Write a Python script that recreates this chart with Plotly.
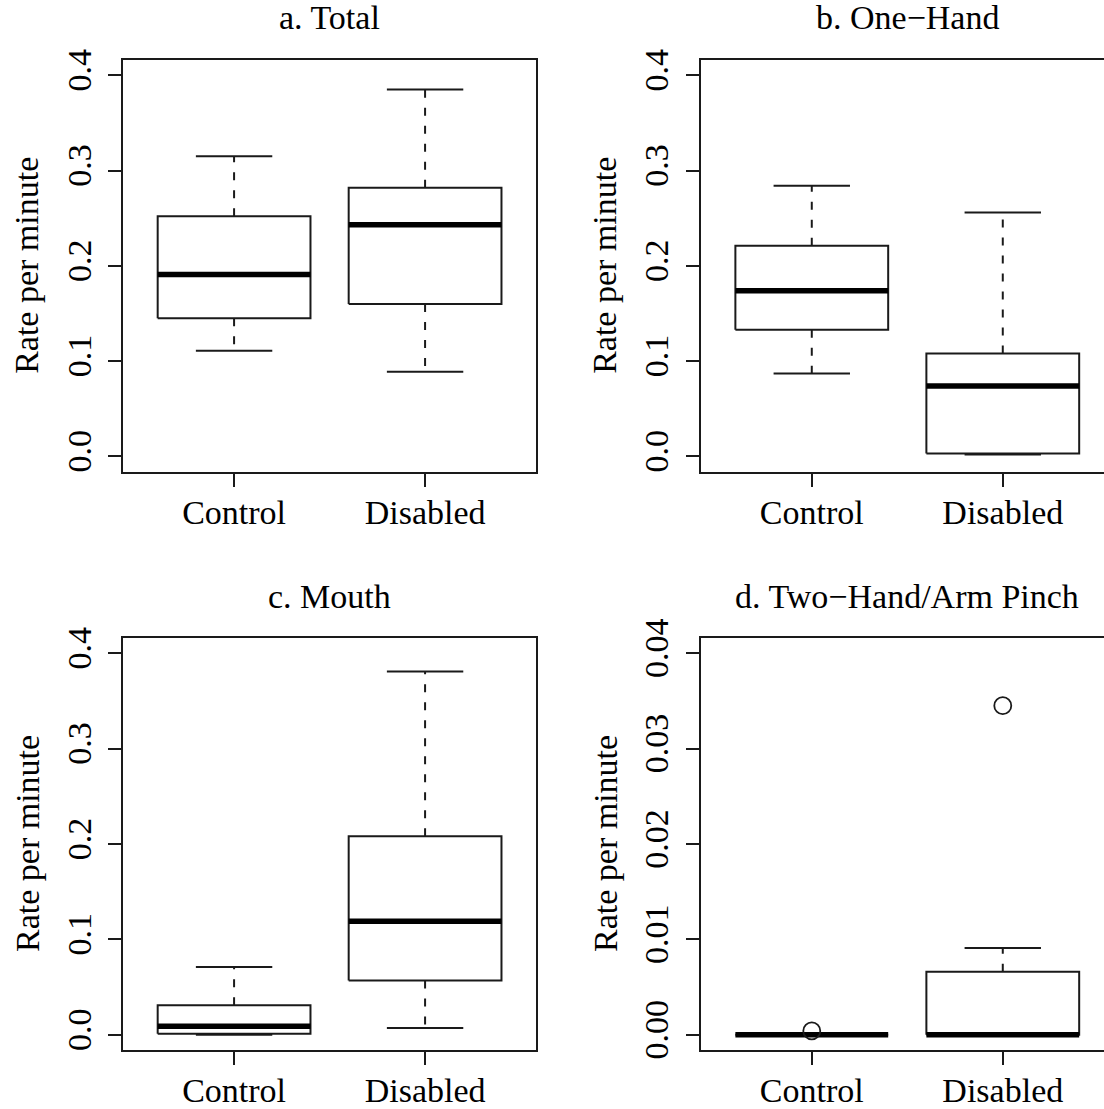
import plotly.graph_objects as go

# ---------------- data ----------------
groups = ["Control", "Disabled"]
panel_titles = ["a. Total", "b. One\u2212Hand", "c. Mouth", "d. Two\u2212Hand/Arm Pinch"]
y_label = "Rate per minute"

total_lower = [0.111, 0.089]
total_q1 = [0.145, 0.160]
total_median = [0.191, 0.243]
total_q3 = [0.252, 0.282]
total_upper = [0.315, 0.385]
total_outliers = [[], []]

onehand_lower = [0.087, 0.002]
onehand_q1 = [0.133, 0.003]
onehand_median = [0.174, 0.074]
onehand_q3 = [0.221, 0.108]
onehand_upper = [0.284, 0.256]
onehand_outliers = [[], []]

mouth_lower = [0.000, 0.007]
mouth_q1 = [0.001, 0.057]
mouth_median = [0.009, 0.119]
mouth_q3 = [0.031, 0.208]
mouth_upper = [0.071, 0.381]
mouth_outliers = [[], []]

twohand_lower = [0.0, 0.0]
twohand_q1 = [0.0, 0.0]
twohand_median = [0.0, 0.0]
twohand_q3 = [0.0, 0.0066]
twohand_upper = [0.0, 0.0091]
twohand_outliers = [[0.0004], [0.0345]]

ticks_rate = [0.0, 0.1, 0.2, 0.3, 0.4]
ticks_rate_text = ["0.0", "0.1", "0.2", "0.3", "0.4"]
ticks_small = [0.0, 0.01, 0.02, 0.03, 0.04]
ticks_small_text = ["0.00", "0.01", "0.02", "0.03", "0.04"]

# ---------------- layout geometry (pixels) ----------------
W, H = 1104, 1109
FONT = "Liberation Serif"
INK = "#1a1a1a"
unit = 191.0            # px per category unit
left_a, left_b = 123.3, 701.0
top_row = (60.0, 471.7)
bot_row = (638.0, 1050.0)
xr = (0.42, 2.58)

fig = go.Figure()

panels = [
    (total_lower, total_q1, total_median, total_q3, total_upper, total_outliers),
    (onehand_lower, onehand_q1, onehand_median, onehand_q3, onehand_upper, onehand_outliers),
    (mouth_lower, mouth_q1, mouth_median, mouth_q3, mouth_upper, mouth_outliers),
    (twohand_lower, twohand_q1, twohand_median, twohand_q3, twohand_upper, twohand_outliers),
]

BOX_HALF = 0.4
CAP_HALF = 0.2

for p, (lo, q1, med, q3, up, outs) in enumerate(panels):
    xa = "x" if p == 0 else f"x{p+1}"
    ya = "y" if p == 0 else f"y{p+1}"
    for i, g in enumerate(groups):
        c = i + 1
        # dashed whiskers
        for a, b in ((q3[i], up[i]), (q1[i], lo[i])):
            fig.add_trace(go.Scatter(x=[c, c], y=[a, b], mode="lines",
                                     line=dict(color=INK, width=2, dash="8px,10px"),
                                     xaxis=xa, yaxis=ya, showlegend=False, hoverinfo="skip"))
        # caps
        for v in (up[i], lo[i]):
            fig.add_trace(go.Scatter(x=[c - CAP_HALF, c + CAP_HALF], y=[v, v], mode="lines",
                                     line=dict(color=INK, width=2),
                                     xaxis=xa, yaxis=ya, showlegend=False, hoverinfo="skip"))
        # box
        fig.add_trace(go.Scatter(
            x=[c - BOX_HALF, c + BOX_HALF, c + BOX_HALF, c - BOX_HALF, c - BOX_HALF],
            y=[q1[i], q1[i], q3[i], q3[i], q1[i]], mode="lines",
            line=dict(color=INK, width=2), fill="toself", fillcolor="white",
            xaxis=xa, yaxis=ya, showlegend=False, name=g))
        # median
        fig.add_trace(go.Scatter(x=[c - BOX_HALF, c + BOX_HALF], y=[med[i], med[i]], mode="lines",
                                 line=dict(color="black", width=5.5),
                                 xaxis=xa, yaxis=ya, showlegend=False, hoverinfo="skip"))
        # outliers
        if outs[i]:
            fig.add_trace(go.Scatter(x=[c] * len(outs[i]), y=outs[i], mode="markers",
                                     marker=dict(symbol="circle-open", size=17, color=INK,
                                                 line=dict(color=INK, width=1.8)),
                                     xaxis=xa, yaxis=ya, showlegend=False))

axis_font = dict(family=FONT, size=34, color="black")


def xaxis_cfg(left, clipped):
    right = left + unit * (xr[1] - xr[0])
    if clipped:
        rng = [xr[0], xr[0] + (W - left) / unit]
        dom = [left / W, 1.0]
    else:
        rng = list(xr)
        dom = [left / W, right / W]
    return dict(domain=dom, range=rng, tickvals=[1, 2], ticktext=groups, automargin=False,
                showline=True, linecolor=INK, linewidth=2, mirror=True,
                ticks="outside", ticklen=13, tickwidth=2, tickcolor=INK,
                ticklabelstandoff=-4,
                showgrid=False, zeroline=False, tickfont=axis_font, fixedrange=True)


def yaxis_cfg(row, tv, tt, rng, mirror):
    top, bot = row
    return dict(domain=[1 - bot / H, 1 - top / H], range=rng, tickvals=tv, ticktext=tt,
                automargin=False, ticklabelstandoff=4,
                tickangle=-90, showline=True, linecolor=INK, linewidth=2, mirror=mirror,
                ticks="outside", ticklen=13, tickwidth=2, tickcolor=INK,
                showgrid=False, zeroline=False, tickfont=axis_font, fixedrange=True)


r_big = [-0.016, 0.416]
r_small = [-0.0016, 0.0416]

fig.update_layout(
    template="none",
    width=W, height=H, margin=dict(l=0, r=0, t=0, b=0, autoexpand=False),
    paper_bgcolor="white", plot_bgcolor="white", showlegend=False,
    xaxis=dict(xaxis_cfg(left_a, False), anchor="y"),
    yaxis=dict(yaxis_cfg(top_row, ticks_rate, ticks_rate_text, r_big, True), anchor="x"),
    xaxis2=dict(xaxis_cfg(left_b, True), anchor="y2"),
    yaxis2=dict(yaxis_cfg(top_row, ticks_rate, ticks_rate_text, r_big, False), anchor="x2"),
    xaxis3=dict(xaxis_cfg(left_a, False), anchor="y3"),
    yaxis3=dict(yaxis_cfg(bot_row, ticks_rate, ticks_rate_text, r_big, True), anchor="x3"),
    xaxis4=dict(xaxis_cfg(left_b, True), anchor="y4"),
    yaxis4=dict(yaxis_cfg(bot_row, ticks_small, ticks_small_text, r_small, False), anchor="x4"),
)

# titles and y-axis labels
centers_x = [left_a + unit * 1.08, left_b + unit * 1.08]
rows = [top_row, bot_row]
for p, t in enumerate(panel_titles):
    col, row = p % 2, p // 2
    cx = centers_x[col]
    top, bot = rows[row]
    fig.add_annotation(text=t, x=cx / W, y=1 - (top - 42) / H, xref="paper", yref="paper",
                       xanchor="center", yanchor="middle", showarrow=False,
                       font=dict(family=FONT, size=34, color="black"))
    fig.add_annotation(text=y_label, x=(27 + 578 * col) / W, y=1 - ((top + bot) / 2) / H,
                       xref="paper", yref="paper", textangle=-90,
                       xanchor="center", yanchor="middle", showarrow=False,
                       font=dict(family=FONT, size=34, color="black"))

fig.write_html(
    "out.html",
    config={"displayModeBar": False, "staticPlot": True},
    post_script="document.body.style.margin='0';document.body.style.overflow='hidden';",
)
